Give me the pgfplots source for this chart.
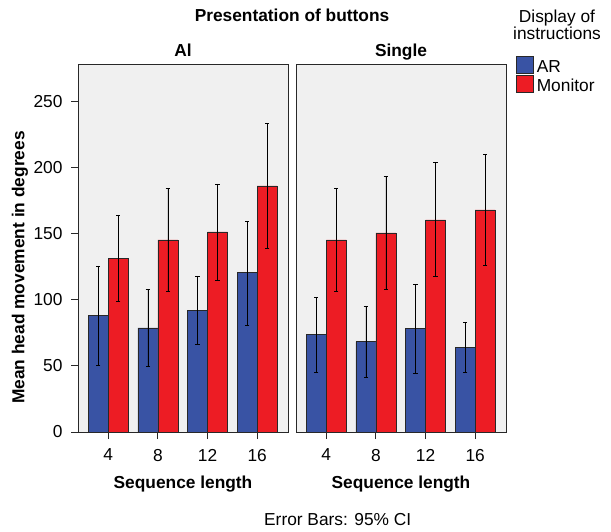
\documentclass[border=0pt]{standalone}
\usepackage{fontspec}
\setmainfont{Liberation Sans}
\usepackage{pgfplots}
\usepackage{pgfplotstable}
\pgfplotsset{compat=1.18}
\definecolor{barblue}{RGB}{57,83,164}
\definecolor{barred}{RGB}{237,28,36}
\definecolor{panelbg}{RGB}{240,240,240}
\definecolor{framec}{RGB}{40,40,40}

% Panel "Al"
\pgfplotstableread{
x ar arlo arhi mon monlo monhi
0 88.1 50.5 125.8 131.8 99.2 164.4
1 78.8 49.5 107.8 145.5 106.3 184.8
2 92.4 66.2 118.2 151.5 114.9 187.9
3 120.7 81.1 159.8 186.4 139.4 233.6
}\tableAI
% Panel "Single"
\pgfplotstableread{
x ar arlo arhi mon monlo monhi
0 73.7 45.5 101.8 145.5 106.8 184.3
1 68.4 41.4 95.5 150.8 108.1 193.7
2 78.3 44.2 112.1 160.6 117.7 204.0
3 63.9 44.9 82.8 168.2 126.3 210.1
}\tableSingle

\newcommand{\fs}{\fontsize{17.33}{20}\selectfont}

\pgfplotsset{
  panel/.style={
    at={(#1,99pt)}, anchor=south west, scale only axis,
    width=210pt, height=367pt,
    xmin=-0.61, xmax=3.62, ymin=0, ymax=278,
    ybar, bar width=0.403,
    xtick={0,1,2,3}, xticklabels={4,8,12,16},
    xtick pos=left,
    tick align=outside, major tick length=7pt,
    axis background/.style={fill=panelbg},
    axis line style={framec, line width=1pt},
    tick style={framec, line width=1pt},
    ticklabel style={font=\fs},
    xticklabel style={yshift=-6.5pt},
    yticklabel style={xshift=-5pt},
    /pgf/number format/assume math mode=true,
  },
  arbar/.style={fill=barblue, draw=framec, line width=0.6pt, bar shift=-0.2015,
    error bars/.cd, y dir=both, y explicit,
    error bar style={black, line width=0.8pt},
    error mark options={rotate=90, black, line width=0.8pt, mark size=2.2pt}},
  monbar/.style={fill=barred, draw=framec, line width=0.6pt, bar shift=0.2015,
    error bars/.cd, y dir=both, y explicit,
    error bar style={black, line width=0.8pt},
    error mark options={rotate=90, black, line width=0.8pt, mark size=2.2pt}},
}

\begin{document}
\begin{tikzpicture}
\path[use as bounding box] (0pt,0pt) rectangle (611pt,531pt);

\begin{axis}[panel=78pt, ytick={0,50,100,150,200,250}, ytick pos=left]
\addplot[arbar] table[x=x, y=ar,
  y error plus expr=\thisrow{arhi}-\thisrow{ar},
  y error minus expr=\thisrow{ar}-\thisrow{arlo}] {\tableAI};
\addplot[monbar] table[x=x, y=mon,
  y error plus expr=\thisrow{monhi}-\thisrow{mon},
  y error minus expr=\thisrow{mon}-\thisrow{monlo}] {\tableAI};
\end{axis}

\begin{axis}[panel=296pt, ytick=\empty,
  legend style={at={(1,1)}, anchor=north west, xshift=10pt, yshift=9pt,
    draw=none, fill=none, inner sep=0pt, row sep=0.5pt, column sep=1.5pt,
    font=\fs,
    nodes={inner xsep=2pt, inner ysep=1pt}},
  legend cell align=left,
  legend image code/.code={\draw[#1, draw=framec, line width=0.6pt] (0pt,-6pt) rectangle (16.5pt,10.5pt);}]
\addplot[arbar] table[x=x, y=ar,
  y error plus expr=\thisrow{arhi}-\thisrow{ar},
  y error minus expr=\thisrow{ar}-\thisrow{arlo}] {\tableSingle};
\addplot[monbar] table[x=x, y=mon,
  y error plus expr=\thisrow{monhi}-\thisrow{mon},
  y error minus expr=\thisrow{mon}-\thisrow{monlo}] {\tableSingle};
\legend{AR, Monitor}
\end{axis}

\node[font=\bfseries\fs, anchor=base] at (292pt,509.3pt) {Presentation of buttons};
\node[font=\bfseries\fs, anchor=base] at (183pt,474.3pt) {Al};
\node[font=\bfseries\fs, anchor=base] at (401pt,474.3pt) {Single};
\node[font=\bfseries\fs, anchor=base] at (183pt,42.7pt) {Sequence length};
\node[font=\bfseries\fs, anchor=base] at (401pt,42.7pt) {Sequence length};
\node[font=\bfseries\fs, rotate=90] at (20pt,263.5pt) {Mean head movement in degrees};
\node[font=\fs, anchor=base] at (337.7pt,6pt) {Error Bars: 95\% CI};
\node[font=\fs, anchor=base] at (557pt,508pt) {Display of};
\node[font=\fs, anchor=base] at (557pt,491.7pt) {instructions};
\end{tikzpicture}
\end{document}
